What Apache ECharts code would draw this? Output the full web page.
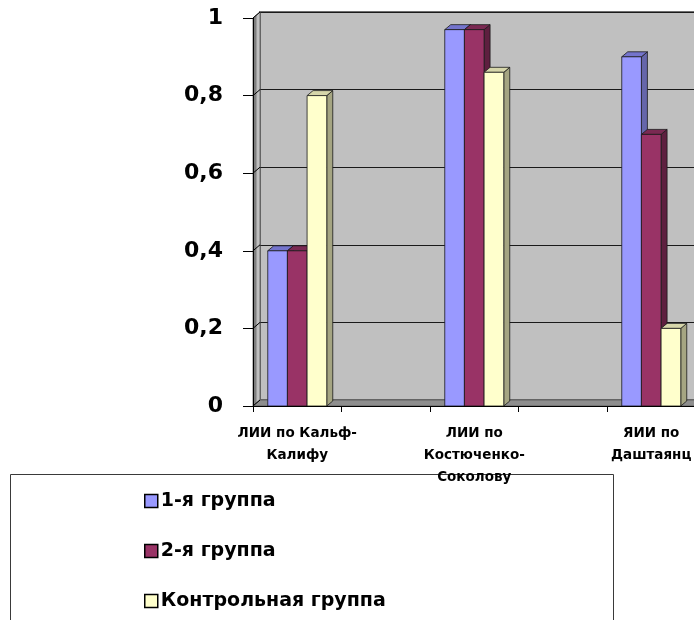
<!DOCTYPE html>
<html>
<head>
<meta charset="utf-8">
<script src="https://cdn.jsdelivr.net/npm/echarts@6/dist/echarts.min.js"></script>
<style>
  html, body { margin: 0; padding: 0; background: #ffffff; }
  #chart { width: 694px; height: 620px; }
</style>
</head>
<body>
<div id="chart"></div>
<script>
// Indices (categories), series and the value-axis ticks
const categories = ['ЛИИ по Кальф-\nКалифу', 'ЛИИ по\nКостюченко-\nСоколову', 'ЯИИ по\nДаштаянц'];
const seriesNames = ['1-я группа', '2-я группа', 'Контрольная группа'];
const group1 = [0.4, 0.97, 0.9];
const group2 = [0.4, 0.97, 0.7];
const control = [0.8, 0.86, 0.2];
const yTicks = [0, 0.2, 0.4, 0.6, 0.8, 1];

// Each index is followed by an empty slot on the category axis
const slots = [];
categories.forEach(c => { slots.push(c); slots.push(''); });

// Face colours of the pseudo-3D columns: front, top, right side
const palette = [
  { front: '#9999FF', top: '#7474CC', side: '#6666AA' },
  { front: '#993366', top: '#7A2952', side: '#5E1F3F' },
  { front: '#FFFFCC', top: '#D6D6AA', side: '#A5A582' }
];

const FONT = "'DejaVu Sans', sans-serif";
const WALL_DX = 7, WALL_DY = 6;   // depth of the chart box
const BAR_DX = 6, BAR_DY = 5;     // depth of a column
const BAR_FRACTION = 2 / 9;       // column width as a share of a slot

function columnRenderer(slotIndex) {
  return function (params, api) {
    const cat = api.value(0);
    const val = api.value(1);
    const base = api.coord([cat, 0]);
    const top = api.coord([cat, val]);
    const w = api.size([1, 0])[0] * BAR_FRACTION;
    const x0 = base[0] - 1.5 * w + slotIndex * w;
    const x1 = x0 + w;
    const c = palette[slotIndex];
    const edge = { stroke: '#1a1a1a', lineWidth: 0.8 };
    return {
      type: 'group',
      children: [
        { type: 'polygon',
          shape: { points: [[x1, top[1]], [x1 + BAR_DX, top[1] - BAR_DY], [x1 + BAR_DX, base[1] - BAR_DY], [x1, base[1]]] },
          style: Object.assign({ fill: c.side }, edge) },
        { type: 'polygon',
          shape: { points: [[x0, top[1]], [x0 + BAR_DX, top[1] - BAR_DY], [x1 + BAR_DX, top[1] - BAR_DY], [x1, top[1]]] },
          style: Object.assign({ fill: c.top }, edge) },
        { type: 'rect',
          shape: { x: x0, y: top[1], width: w, height: base[1] - top[1] },
          style: Object.assign({ fill: c.front }, edge) }
      ]
    };
  };
}

// Side wall, floor and the short depth lines at each tick
function wallRenderer(params, api) {
  const cs = params.coordSys;
  const left = cs.x, right = cs.x + cs.width, bottom = cs.y + cs.height, topY = cs.y;
  const children = [
    { type: 'polygon',
      shape: { points: [[left, topY], [left + WALL_DX, topY - WALL_DY], [left + WALL_DX, bottom - WALL_DY], [left, bottom]] },
      style: { fill: new echarts.graphic.LinearGradient(0, 0, 1, 0, [
        { offset: 0, color: '#7a7a7a' }, { offset: 0.45, color: '#7f7f7f' },
        { offset: 0.55, color: '#bdbdbd' }, { offset: 1, color: '#c4c4c4' }]),
        stroke: '#555555', lineWidth: 0.8 } },
    { type: 'polygon',
      shape: { points: [[left, bottom], [left + WALL_DX, bottom - WALL_DY], [right + WALL_DX, bottom - WALL_DY], [right, bottom]] },
      style: { fill: '#8e8e8e', stroke: '#555555', lineWidth: 0.8 } }
  ];
  yTicks.forEach(t => {
    const y = api.coord([0, t])[1];
    children.push({ type: 'line',
      shape: { x1: left, y1: y, x2: left + WALL_DX, y2: y - WALL_DY },
      style: { stroke: '#000000', lineWidth: 1 } });
  });
  return { type: 'group', children: children };
}

const values = [group1, group2, control];

const chart = echarts.init(document.getElementById('chart'), null, { renderer: 'canvas' });

const option = {
  animation: false,
  backgroundColor: '#ffffff',
  graphic: [{
    type: 'rect',
    left: 10, top: 474,
    shape: { width: 603, height: 200 },
    style: { fill: 'transparent', stroke: '#3a3a3a', lineWidth: 1 },
    z: 0, silent: true
  }],
  grid: [
    { left: 253, top: 18, width: 531, height: 388, show: false, outerBoundsMode: 'none', containLabel: false },
    { left: 253 + WALL_DX, top: 18 - WALL_DY, width: 531, height: 388, show: true, outerBoundsMode: 'none',
      containLabel: false, backgroundColor: '#C0C0C0', borderColor: '#6e6e6e', borderWidth: 2, z: 0 }
  ],
  xAxis: [
    { type: 'category', gridIndex: 0, data: slots, boundaryGap: true,
      axisLine: { show: true, lineStyle: { color: '#000000', width: 1 } },
      axisTick: { show: true, length: 6, interval: 0, lineStyle: { color: '#000000' } },
      axisLabel: { interval: 0, margin: 16, color: '#000000', fontFamily: FONT, fontWeight: 'bold',
        fontSize: 13.5, lineHeight: 22, align: 'center', hideOverlap: false },
      splitLine: { show: false }, z: 5 },
    { type: 'category', gridIndex: 1, data: slots, show: false }
  ],
  yAxis: [
    { type: 'value', gridIndex: 0, min: yTicks[0], max: yTicks[yTicks.length - 1], interval: 0.2,
      axisLine: { show: true, lineStyle: { color: '#000000', width: 1 } },
      axisTick: { show: true, length: 10, lineStyle: { color: '#000000' } },
      axisLabel: { margin: 30, color: '#000000', fontFamily: FONT, fontWeight: 'bold', fontSize: 22,
        formatter: v => String(v).replace('.', ',') },
      splitLine: { show: false }, z: 5 },
    { type: 'value', gridIndex: 1, min: yTicks[0], max: yTicks[yTicks.length - 1], interval: 0.2,
      axisLine: { show: false }, axisTick: { show: false }, axisLabel: { show: false },
      splitLine: { show: true, lineStyle: { color: '#1a1a1a', width: 1 } } }
  ],
  legend: {
    data: seriesNames,
    orient: 'vertical',
    left: 144, top: 489,
    padding: 0,
    itemGap: 26,
    icon: 'rect',
    itemWidth: 13, itemHeight: 13,
    itemStyle: { borderColor: '#000000', borderWidth: 1.5 },
    textStyle: { color: '#000000', fontFamily: FONT, fontWeight: 'bold', fontSize: 19, lineHeight: 24, padding: [0, 0, 0, -2] }
  },
  series: [
    { type: 'custom', name: '_walls', xAxisIndex: 0, yAxisIndex: 0, silent: true,
      renderItem: wallRenderer, data: [[0, 0]], z: 1 }
  ].concat(values.map((vals, i) => ({
    type: 'custom',
    name: seriesNames[i],
    xAxisIndex: 0, yAxisIndex: 0,
    itemStyle: { color: palette[i].front },
    renderItem: columnRenderer(i),
    data: vals.map((v, k) => [k * 2, v]),
    z: 2 + i
  })))
};

chart.setOption(option);
</script>
</body>
</html>
